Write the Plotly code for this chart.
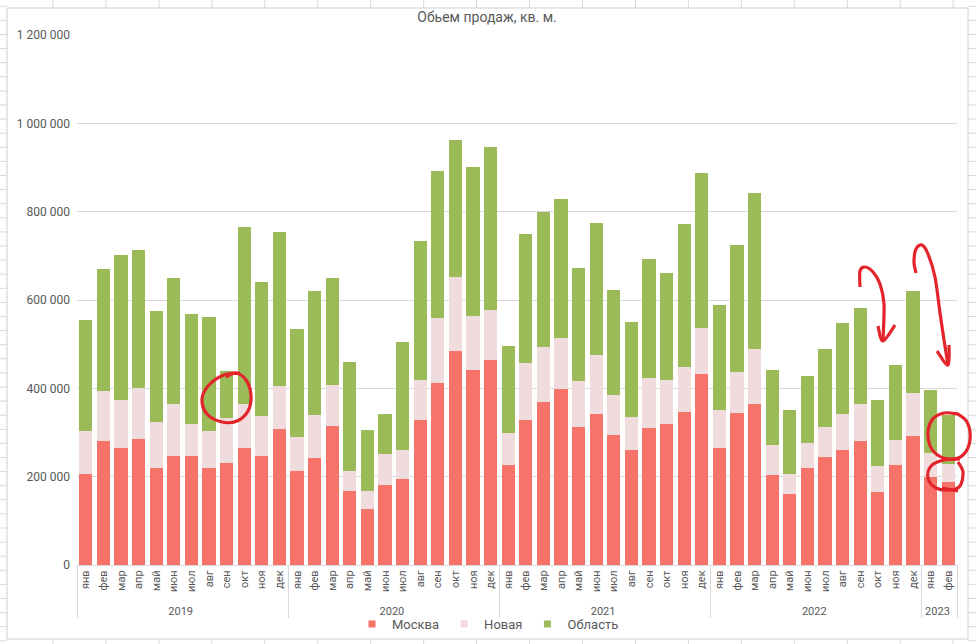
import plotly.graph_objects as go

# ---------------- data (thousand sq. m) ----------------
month_names = ["янв", "фев", "мар", "апр", "май", "июн", "июл", "авг", "сен", "окт", "ноя", "дек"]
year_counts = [("2019", 12), ("2020", 12), ("2021", 12), ("2022", 12), ("2023", 2)]

moscow = [206, 281, 265, 285, 220, 247, 247, 220, 232, 265, 247, 308,
          213, 242, 315, 168, 127, 181, 195, 328, 412, 485, 441, 464,
          226, 328, 369, 398, 313, 342, 294, 260, 310, 319, 346, 432,
          265, 344, 365, 204, 161, 220, 245, 260, 281, 165, 226, 292,
          199, 188]
novaya = [97, 113, 108, 116, 104, 117, 72, 83, 101, 99, 90, 98,
          77, 98, 92, 45, 41, 71, 65, 91, 147, 168, 123, 113,
          73, 130, 125, 116, 104, 133, 91, 75, 113, 100, 102, 105,
          86, 93, 124, 68, 46, 56, 67, 82, 84, 59, 57, 97,
          55, 41]
oblast = [252, 276, 329, 312, 251, 286, 249, 258, 106, 401, 304, 347,
          244, 280, 243, 246, 138, 91, 245, 315, 333, 309, 337, 369,
          197, 291, 305, 315, 255, 299, 238, 215, 270, 242, 324, 350,
          238, 288, 354, 170, 144, 152, 177, 206, 217, 150, 170, 231,
          142, 111]

series_names = ["Москва", "Новая", "Область"]
series_colors = ["#F6736A", "#F0DCDC", "#9BBB59"]

y_ticks = [0, 200000, 400000, 600000, 800000, 1000000, 1200000]

years = []
months = []
for yr, n in year_counts:
    years += [yr] * n
    months += month_names[:n]

# ---------------- figure ----------------
fig = go.Figure()
for name, vals, col in zip(series_names, [moscow, novaya, oblast], series_colors):
    fig.add_trace(go.Bar(
        x=[years, months], y=[v * 1000 for v in vals], name=name,
        marker=dict(color=col, line=dict(width=0)),
        legendgroup=name, showlegend=False,
    ))
# legend entries with small square keys (as in the original)
for name, col in zip(series_names, series_colors):
    fig.add_trace(go.Scatter(
        x=[[None], [None]], y=[None], mode="markers", name=name, legendgroup=name,
        marker=dict(symbol="square", size=7, color=col), hoverinfo="skip",
    ))

FONT = "Roboto, Arial, sans-serif"
GRAY = "#595959"
L, R, T, B = 77, 19, 35, 79
W, H = 976, 644
PW, PH = W - L - R, H - T - B


def pp(x, y):
    return ((x - L) / PW, (H - B - y) / PH)


def smooth_path(points):
    p = [pp(*pt) for pt in points]
    d = "M {:.5f},{:.5f}".format(*p[0])
    for i in range(len(p) - 1):
        p0 = p[i - 1] if i > 0 else p[i]
        p1 = p[i]
        p2 = p[i + 1]
        p3 = p[i + 2] if i + 2 < len(p) else p[i + 1]
        c1 = (p1[0] + (p2[0] - p0[0]) / 6, p1[1] + (p2[1] - p0[1]) / 6)
        c2 = (p2[0] - (p3[0] - p1[0]) / 6, p2[1] - (p3[1] - p1[1]) / 6)
        d += " C {:.5f},{:.5f} {:.5f},{:.5f} {:.5f},{:.5f}".format(*c1, *c2, *p2)
    return d


shapes = []
GRID = "#D9D9D9"
# spreadsheet grid outside the chart frame
for k in range(20):
    x = 53 + 52.95 * k
    if x > W:
        break
    a = pp(x, 0); b = pp(x, 8)
    shapes.append(dict(type="line", xref="paper", yref="paper", x0=a[0], x1=b[0], y0=a[1], y1=b[1],
                       line=dict(color=GRID, width=1), layer="below"))
    a = pp(x, 639); b = pp(x, H)
    shapes.append(dict(type="line", xref="paper", yref="paper", x0=a[0], x1=b[0], y0=a[1], y1=b[1],
                       line=dict(color=GRID, width=1), layer="below"))
for j in range(-30, 30):
    y = 387 + 14.1 * j
    if y < 0 or y > H:
        continue
    a = pp(0, y); b = pp(7, y)
    shapes.append(dict(type="line", xref="paper", yref="paper", x0=a[0], x1=b[0], y0=a[1], y1=b[1],
                       line=dict(color=GRID, width=1), layer="below"))
    a = pp(968, y); b = pp(W, y)
    shapes.append(dict(type="line", xref="paper", yref="paper", x0=a[0], x1=b[0], y0=a[1], y1=b[1],
                       line=dict(color=GRID, width=1), layer="below"))
# chart frame
a = pp(7, 8); b = pp(968, 639)
shapes.append(dict(type="rect", xref="paper", yref="paper", x0=a[0], x1=b[0], y0=a[1], y1=b[1],
                   line=dict(color="#D0D0D0", width=1), layer="below"))

# hand-drawn red marks
RED = "#E3242B"
marks = [
    [(240, 373), (224, 375), (209, 385), (202, 399), (207, 414), (222, 422), (237, 421),
     (248, 411), (251, 395), (246, 380), (236, 373), (226, 377)],
    [(860, 287), (860, 271), (865, 267), (873, 272), (880, 284), (884, 304), (883, 341)],
    [(878, 326), (883, 341), (895, 325)],
    [(916, 273), (914, 262), (916, 249), (922, 245), (928, 254), (935, 277), (940, 313),
     (944, 340), (948, 365)],
    [(937, 351), (948, 365), (949, 345)],
    [(958, 414), (944, 413), (932, 420), (928, 436), (934, 452), (949, 459), (963, 455),
     (970, 440), (967, 422), (956, 413)],
    [(960, 459), (944, 460), (931, 466), (928, 478), (936, 488), (950, 490), (960, 486),
     (963, 472), (958, 462)],
    [(942, 488), (958, 491)],
]
for m in marks:
    shapes.append(dict(type="path", xref="paper", yref="paper", path=smooth_path(m),
                       line=dict(color=RED, width=3.2), layer="above"))

fig.update_layout(
    width=W, height=H,
    margin=dict(l=L, r=R, t=T, b=B, autoexpand=False),
    barmode="stack", bargap=0.245,
    paper_bgcolor="white", plot_bgcolor="white",
    separators=", ",
    font=dict(family=FONT, size=12, color=GRAY),
    title=dict(text="Обьем продаж, кв. м.", x=0.499, xref="container", y=1 - 17 / H,
               yref="container", xanchor="center", yanchor="middle",
               font=dict(family=FONT, size=14, color=GRAY)),
    legend=dict(orientation="h", x=(488 - L) / PW, xanchor="center", y=-(624 - (H - B)) / PH,
                yanchor="middle", font=dict(family=FONT, size=13, color=GRAY),
                itemwidth=30, traceorder="normal", bgcolor="rgba(0,0,0,0)",
                tracegroupgap=0),
    xaxis=dict(type="multicategory", showline=True, linecolor=GRID, linewidth=1,
               showdividers=True, dividercolor=GRID, dividerwidth=1,
               tickangle=-90, tickfont=dict(family=FONT, size=11, color=GRAY),
               ticks="", showgrid=False, automargin=False),
    yaxis=dict(range=[0, 1200000], tickvals=y_ticks, tickformat=",d",
               showgrid=True, gridcolor=GRID, gridwidth=1, zeroline=False,
               showline=False, ticks="", tickfont=dict(family=FONT, size=12, color=GRAY),
               ticklabelstandoff=6, automargin=False),
    shapes=shapes,
)

fig.write_html("out.html")
